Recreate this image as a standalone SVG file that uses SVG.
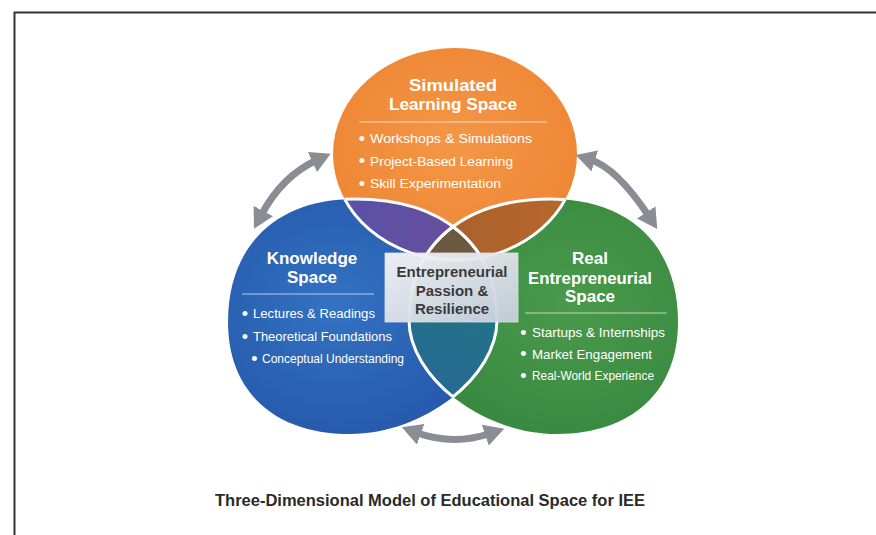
<svg xmlns="http://www.w3.org/2000/svg" width="876" height="535" viewBox="0 0 876 535">
  <defs>
    <style>
      .head { font-family: "Liberation Sans", Arial, sans-serif; font-weight: bold; font-size: 17px; fill: #ffffff; text-anchor: middle; }
      .item { font-family: "Liberation Sans", Arial, sans-serif; font-size: 13.5px; fill: #ffffff; }
      .dot { font-family: "Liberation Sans", Arial, sans-serif; font-size: 18px; fill: #ffffff; text-anchor: middle; }
      .rule { stroke: #ffffff; stroke-opacity: 0.65; stroke-width: 1; }
      .core-text { font-family: "Liberation Sans", Arial, sans-serif; font-weight: bold; font-size: 15px; fill: #3a3a3a; text-anchor: middle; }
      .caption { font-family: "Liberation Sans", Arial, sans-serif; font-weight: bold; font-size: 16.5px; fill: #2a2a2a; text-anchor: middle; }
      .outline { fill: none; stroke: #ffffff; stroke-width: 3; }
      .arrow { fill: none; stroke: #8b8c94; stroke-width: 7; }
    </style>

    <!-- Shapes of the three spaces -->
    <path id="blueShape" d="M355,199 C443,199 497,245 497,320 C497,377 423.5,434 350,434 C274,434 228,391.4 228,322 C228,245.7 276.3,199 355,199 Z"/>
    <path id="greenShape" d="M551,199 C463,199 409,245 409,320 C409,377 482.5,434 556,434 C632,434 678,391.4 678,322 C678,245.7 629.7,199 551,199 Z"/>
    <ellipse id="orangeShape" cx="455" cy="154" rx="122" ry="106"/>

    <clipPath id="clipBlue"><path d="M355,199 C443,199 497,245 497,320 C497,377 423.5,434 350,434 C274,434 228,391.4 228,322 C228,245.7 276.3,199 355,199 Z"/></clipPath>
    <clipPath id="clipGreen"><path d="M551,199 C463,199 409,245 409,320 C409,377 482.5,434 556,434 C632,434 678,391.4 678,322 C678,245.7 629.7,199 551,199 Z"/></clipPath>
    <clipPath id="clipOrange"><ellipse cx="455" cy="154" rx="122" ry="106"/></clipPath>

    <radialGradient id="gBlue" cx="0.4" cy="0.45" r="0.6">
      <stop offset="0" stop-color="#3372c2"/>
      <stop offset="1" stop-color="#2659ab"/>
    </radialGradient>
    <radialGradient id="gGreen" cx="0.6" cy="0.45" r="0.6">
      <stop offset="0" stop-color="#4a9a4c"/>
      <stop offset="1" stop-color="#388840"/>
    </radialGradient>
    <radialGradient id="gOrange" cx="0.5" cy="0.45" r="0.6">
      <stop offset="0" stop-color="#f39747"/>
      <stop offset="1" stop-color="#ee8533"/>
    </radialGradient>
    <linearGradient id="gPurple" x1="0" y1="0" x2="1" y2="0">
      <stop offset="0" stop-color="#5652a8"/>
      <stop offset="1" stop-color="#7a4b93"/>
    </linearGradient>
    <linearGradient id="gBrown" x1="0" y1="0" x2="1" y2="0">
      <stop offset="0" stop-color="#9c5a2d"/>
      <stop offset="1" stop-color="#b8682b"/>
    </linearGradient>
    <linearGradient id="gTeal" x1="0.7" y1="0" x2="0.2" y2="1">
      <stop offset="0" stop-color="#1e7b78"/>
      <stop offset="1" stop-color="#2b5fa8"/>
    </linearGradient>
    <linearGradient id="gBox" x1="0" y1="0" x2="1" y2="1">
      <stop offset="0" stop-color="#f6f6f6"/>
      <stop offset="1" stop-color="#c6ceda"/>
    </linearGradient>

    <marker id="head" viewBox="0 0 20 22" refX="5" refY="11" markerWidth="20" markerHeight="22" markerUnits="userSpaceOnUse" orient="auto-start-reverse">
      <path d="M0,0 L20,11 L0,22 Z" fill="#8b8c94"/>
    </marker>
  </defs>

  <rect width="876" height="535" fill="#ffffff"/>
  <!-- Frame -->
  <path d="M14.5,535 V12.5 H876" fill="none" stroke="#333333" stroke-width="2"/>

  <g id="knowledge-space">
    <use href="#blueShape" fill="url(#gBlue)"/>
    <text class="head" x="312" y="264">Knowledge</text>
    <text class="head" x="312" y="283">Space</text>
    <line class="rule" x1="242" y1="294" x2="374" y2="294"/>
    <text class="dot" x="245" y="319.5">•</text>
    <text class="item" x="253" y="318" textLength="122" lengthAdjust="spacingAndGlyphs">Lectures &amp; Readings</text>
    <text class="dot" x="245" y="342.5">•</text>
    <text class="item" x="253" y="341" textLength="139" lengthAdjust="spacingAndGlyphs">Theoretical Foundations</text>
    <text class="dot" x="254.5" y="364.5">•</text>
    <text class="item" x="262" y="363" textLength="142" lengthAdjust="spacingAndGlyphs">Conceptual Understanding</text>
  </g>

  <g id="real-space">
    <use href="#greenShape" fill="url(#gGreen)"/>
    <text class="head" x="590" y="264">Real</text>
    <text class="head" x="590" y="283.5" textLength="124" lengthAdjust="spacingAndGlyphs">Entrepreneurial</text>
    <text class="head" x="590" y="302">Space</text>
    <line class="rule" x1="525" y1="313" x2="667" y2="313"/>
    <text class="dot" x="523.5" y="338.5">•</text>
    <text class="item" x="532" y="337" textLength="133" lengthAdjust="spacingAndGlyphs">Startups &amp; Internships</text>
    <text class="dot" x="523.5" y="360">•</text>
    <text class="item" x="532" y="358.5" textLength="120" lengthAdjust="spacingAndGlyphs">Market Engagement</text>
    <text class="dot" x="523.5" y="381.5">•</text>
    <text class="item" x="532" y="380" textLength="122" lengthAdjust="spacingAndGlyphs">Real-World Experience</text>
  </g>

  <g id="simulated-space">
    <use href="#orangeShape" fill="url(#gOrange)"/>
    <text class="head" x="453" y="91" textLength="88" lengthAdjust="spacingAndGlyphs">Simulated</text>
    <text class="head" x="453" y="110" textLength="128" lengthAdjust="spacingAndGlyphs">Learning Space</text>
    <line class="rule" x1="359" y1="122" x2="547" y2="122"/>
    <text class="dot" x="362" y="144.5">•</text>
    <text class="item" x="370" y="143" textLength="162" lengthAdjust="spacingAndGlyphs">Workshops &amp; Simulations</text>
    <text class="dot" x="362" y="167">•</text>
    <text class="item" x="370" y="165.5" textLength="143" lengthAdjust="spacingAndGlyphs">Project-Based Learning</text>
    <text class="dot" x="362" y="189.5">•</text>
    <text class="item" x="370" y="188" textLength="131" lengthAdjust="spacingAndGlyphs">Skill Experimentation</text>
  </g>

  <!-- Overlaps of the spaces and their dividing lines -->
  <g id="overlaps">
    <g clip-path="url(#clipBlue)">
      <use href="#orangeShape" fill="url(#gPurple)"/>
    </g>
    <g clip-path="url(#clipGreen)">
      <use href="#orangeShape" fill="url(#gBrown)"/>
    </g>
    <g clip-path="url(#clipGreen)">
      <use href="#blueShape" fill="url(#gTeal)"/>
    </g>
    <g clip-path="url(#clipGreen)">
      <g clip-path="url(#clipBlue)">
        <use href="#orangeShape" fill="#6b5a40"/>
      </g>
    </g>
    <g clip-path="url(#clipOrange)">
      <use href="#blueShape" class="outline"/>
      <use href="#greenShape" class="outline"/>
    </g>
    <g clip-path="url(#clipBlue)">
      <use href="#orangeShape" class="outline"/>
      <use href="#greenShape" class="outline"/>
    </g>
    <g clip-path="url(#clipGreen)">
      <use href="#orangeShape" class="outline"/>
      <use href="#blueShape" class="outline"/>
    </g>
  </g>

  <g id="core">
    <rect x="385" y="253" width="133" height="69" fill="url(#gBox)" fill-opacity="0.95" stroke="#dfe2e6" stroke-width="0.8"/>
    <text class="core-text" x="452" y="277">Entrepreneurial</text>
    <text class="core-text" x="452" y="296">Passion &amp;</text>
    <text class="core-text" x="452" y="314">Resilience</text>
  </g>

  <g id="connectors">
    <path class="arrow" d="M261,215.5 Q282,176 317,160" marker-start="url(#head)" marker-end="url(#head)"/>
    <path class="arrow" d="M590,159.5 Q617,168 649,216.5" marker-start="url(#head)" marker-end="url(#head)"/>
    <path class="arrow" d="M416,432.5 Q453,446 490,433.5" marker-start="url(#head)" marker-end="url(#head)"/>
  </g>

  <g id="caption">
    <text class="caption" x="430" y="506">Three-Dimensional Model of Educational Space for IEE</text>
  </g>
</svg>
